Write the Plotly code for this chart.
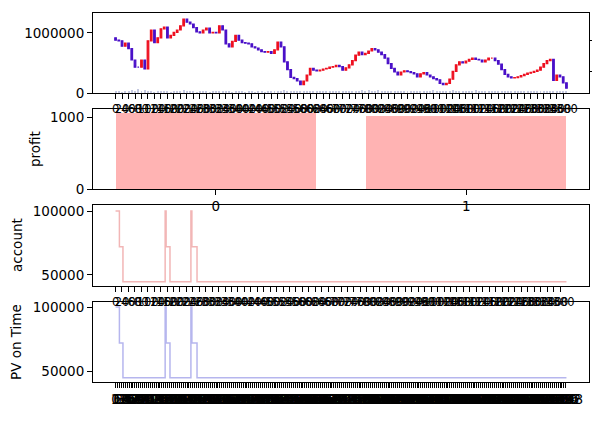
import plotly.graph_objects as go

# price (one candle every 10 days)
price_close = [880000, 870000, 780000, 830000, 740000, 550000, 430000, 430000, 550000, 400000,
               870000, 1050000, 840000, 920000, 1070000, 1100000, 920000, 960000, 1010000, 1050000,
               1120000, 1230000, 1180000, 1150000, 1090000, 1020000, 1000000, 1050000, 1080000, 1000000,
               1010000, 1000000, 1120000, 1050000, 820000, 770000, 860000, 960000, 880000, 840000,
               830000, 820000, 770000, 750000, 720000, 690000, 680000, 690000, 660000, 720000,
               850000, 770000, 520000, 390000, 260000, 240000, 200000, 140000, 200000, 300000,
               410000, 380000, 370000, 380000, 400000, 410000, 430000, 440000, 460000, 440000,
               380000, 420000, 470000, 540000, 630000, 680000, 640000, 660000, 700000, 740000,
               720000, 680000, 640000, 580000, 490000, 410000, 350000, 300000, 350000, 370000,
               355000, 340000, 320000, 270000, 320000, 340000, 300000, 270000, 240000, 220000,
               160000, 140000, 160000, 230000, 360000, 470000, 520000, 500000, 530000, 560000,
               580000, 560000, 550000, 520000, 550000, 580000, 580000, 540000, 480000, 390000,
               310000, 270000, 250000, 255000, 270000, 290000, 310000, 330000, 345000, 360000,
               380000, 430000, 490000, 540000, 560000, 210000, 300000, 270000, 170000, 80000]
price_open_first = 920000
volume = [0.6, 0.9, 0.5, 1.2, 0.7, 1.6, 0.8, 2.2, 0.9, 1.4, 0.6, 0.8, 0.5, 0.7, 0.9, 0.6, 1.1, 0.5, 0.8, 0.6,
          0.9, 1.3, 0.7, 0.6, 0.8, 0.5, 0.7, 0.6, 0.9, 0.5, 0.6, 0.8, 0.7, 0.9, 1.2, 0.6, 0.5, 0.8, 0.6, 0.7,
          0.5, 0.6, 0.8, 0.5, 0.7, 0.6, 0.5, 0.9, 0.6, 0.7, 1.1, 0.8, 1.3, 0.9, 0.7, 0.6, 0.8, 1.0, 0.7, 0.9,
          0.8, 0.6, 0.9, 0.7, 0.6, 0.8, 0.7, 0.9, 0.6, 0.8, 0.7, 1.0, 0.8, 0.9, 1.2, 0.8, 1.4, 1.0, 1.6, 1.1,
          0.9, 1.3, 0.8, 1.0, 0.9, 0.7, 1.1, 0.8, 0.9, 0.7, 1.0, 0.8, 1.2, 0.9, 0.7, 1.0, 0.8, 1.1, 1.3, 0.9,
          1.2, 1.0, 0.8, 1.1, 1.4, 0.9, 0.8, 1.0, 0.7, 0.9, 0.8, 1.3, 0.9, 0.7, 0.8, 1.0, 0.7, 0.9, 0.8, 1.1,
          0.9, 0.8, 1.0, 0.7, 0.9, 1.1, 0.8, 1.0, 0.9, 0.8, 1.0, 0.9, 1.1, 0.8, 0.9, 1.2, 0.8, 1.0, 0.7, 0.6]
price_days = [i * 10 for i in range(len(price_close))]
price_open = [price_open_first] + price_close[:-1]

profit_x = [0, 1]
profit = [1055, 1015]

# account / PV step points (day index, value)
account_days = [0, 12, 23, 154, 157, 169, 234, 237, 253, 1400]
account = [100000, 72000, 44800, 100000, 72000, 44800, 100000, 72000, 44800, 44800]
pv_days = [0, 12, 23, 154, 157, 169, 234, 237, 253, 1400]
pv = [100000, 72000, 44800, 100000, 72000, 44800, 100000, 72000, 44800, 44800]

top_ticks = list(range(0, 1400, 20))
pv_ticks = list(range(0, 1400, 6))

FONT = dict(family='DejaVu Sans', size=13.5, color='black')
SMALL = dict(family='DejaVu Sans', size=11.5, color='black')

fig = go.Figure()
fig.add_trace(go.Bar(x=price_days, y=volume, xaxis='x', yaxis='y2', marker_color='#c4c8e0',
                     marker_line_width=0, width=3, showlegend=False))
fig.add_trace(go.Candlestick(x=price_days, open=price_open, close=price_close,
                             high=[max(o, c) for o, c in zip(price_open, price_close)],
                             low=[min(o, c) for o, c in zip(price_open, price_close)],
                             increasing=dict(line=dict(color='#ee1020', width=1.2), fillcolor='#ee1020'),
                             decreasing=dict(line=dict(color='#4a10c8', width=1.2), fillcolor='#4a10c8'),
                             xaxis='x', yaxis='y', showlegend=False))
fig.add_trace(go.Bar(x=profit_x, y=profit, xaxis='x2', yaxis='y3', marker_color='#ffb3b3',
                     marker_line_width=0, width=0.8, showlegend=False))
fig.add_trace(go.Scatter(x=account_days, y=account, xaxis='x3', yaxis='y4', mode='lines',
                         line=dict(color='#f2b6b6', width=1.5, shape='hv'), showlegend=False))
fig.add_trace(go.Scatter(x=pv_days, y=pv, xaxis='x4', yaxis='y5', mode='lines',
                         line=dict(color='#b6b6ee', width=1.5, shape='hv'), showlegend=False))

ax = dict(showline=True, mirror=True, linecolor='black', linewidth=1.1, showgrid=False, zeroline=False,
          ticks='outside', ticklen=5, tickwidth=1.1, tickcolor='black', tickfont=FONT, automargin=False)
xax = dict(ax, tickangle=0, ticklabeloverflow='allow')

# the page puts the figure 8px in from the top-left corner, margins make up for it
fig.update_layout(
    width=600, height=421, margin=dict(l=85, r=19, t=5, b=47),
    paper_bgcolor='white', plot_bgcolor='white', font=FONT, bargap=0,
    xaxis=dict(xax, domain=[0, 1], anchor='y', range=[-69.5, 1459.5], tickmode='array', tickfont=SMALL,
               tickvals=top_ticks, ticktext=[str(t) for t in top_ticks], rangeslider=dict(visible=False)),
    yaxis=dict(ax, domain=[0.7832, 1], range=[0, 1333000], tickvals=[0, 1000000], ticktext=['0', '1000000']),
    yaxis2=dict(ax, overlaying='y', side='right', anchor='x', range=[0, 40], tickvals=[11, 26.5],
                showticklabels=False, showline=False),
    xaxis2=dict(xax, domain=[0, 1], anchor='y3', range=[-0.49, 1.49], tickvals=[0, 1], ticktext=['0', '1']),
    yaxis3=dict(ax, domain=[0.5230, 0.7398], range=[0, 1111], tickvals=[0, 1000], ticktext=['0', '1000']),
    xaxis3=dict(xax, domain=[0, 1], anchor='y4', range=[-70, 1470], tickmode='array', tickfont=SMALL,
                tickvals=top_ticks, ticktext=[str(t) for t in top_ticks]),
    yaxis4=dict(ax, domain=[0.2602, 0.4797], range=[41400, 104700], tickvals=[50000, 100000],
                ticktext=['50000', '100000']),
    xaxis4=dict(xax, domain=[0, 1], anchor='y5', range=[-70, 1470], tickmode='array',
                tickvals=pv_ticks, ticktext=[str(t) for t in pv_ticks]),
    yaxis5=dict(ax, domain=[0, 0.2168], range=[41400, 104000], tickvals=[50000, 100000],
                ticktext=['50000', '100000']),
)

# y axis titles placed like the original
for txt, xp, yp in [('profit', 35, 149), ('account', 17, 245), ('PV on Time', 16, 342)]:
    fig.add_annotation(text=txt, xref='paper', yref='paper', x=(xp - 93) / 496, y=(382 - yp) / 369,
                       xanchor='center', yanchor='middle', textangle=-90, showarrow=False, font=FONT)

fig.write_html("out.html")
